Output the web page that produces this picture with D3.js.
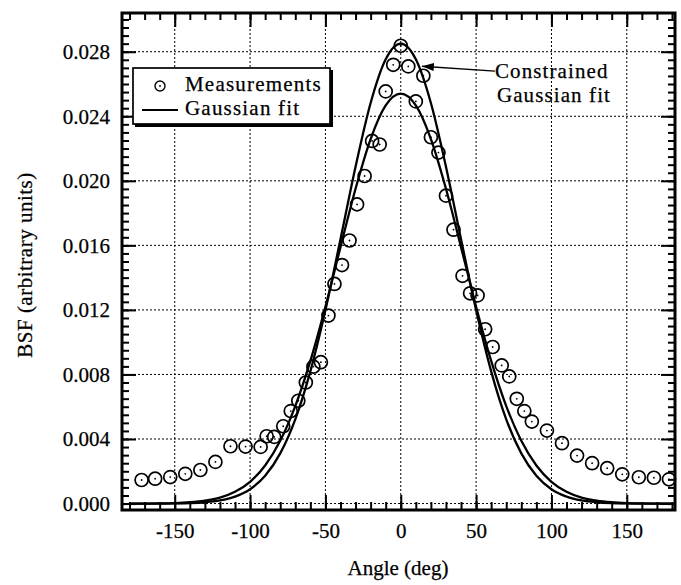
<!DOCTYPE html>
<html>
<head>
<meta charset="utf-8">
<script src="https://cdn.jsdelivr.net/npm/d3@7"></script>
<style>
  body { margin: 0; background: #fff; }
  svg text { font-family: 'Liberation Serif', 'Times New Roman', serif; fill: #000; stroke: #000; stroke-width: 0.25px; }
</style>
</head>
<body>
<div class="chart"></div>
<script>
// measured BSF points (angle in deg, BSF in arbitrary units)
const angles = [-172, -163, -153, -143, -133, -123, -113, -103, -93, -89, -84, -78, -73, -68, -63, -58, -53, -48,
  -44, -39, -34, -29, -24, -19, -14, -10, -5, 0, 5, 10, 15, 20, 25, 30, 35, 41, 46, 51, 56, 61, 67, 72, 77, 82,
  87, 97, 107, 117, 127, 137, 147, 158, 168, 178]
const measurements = [0.00146, 0.00154, 0.00164, 0.00184, 0.00208, 0.00258, 0.00355, 0.00353, 0.00351, 0.00417,
  0.00413, 0.00479, 0.00573, 0.00637, 0.00750, 0.00848, 0.00876, 0.01165, 0.01361, 0.01478, 0.01630, 0.01854,
  0.02030, 0.02247, 0.02225, 0.02554, 0.02719, 0.02837, 0.02709, 0.02492, 0.02651, 0.02270, 0.02175, 0.01908,
  0.01697, 0.01411, 0.01303, 0.01290, 0.01080, 0.00970, 0.00856, 0.00788, 0.00649, 0.00573, 0.00508, 0.00452,
  0.00374, 0.00297, 0.00250, 0.00219, 0.00181, 0.00163, 0.00160, 0.00150]

// fit curves, every 10 deg
const fitAngles = [-180, -170, -160, -150, -140, -130, -120, -110, -100, -90, -80, -70, -60, -50, -40, -30, -20, -10,
  0, 10, 20, 30, 40, 50, 60, 70, 80, 90, 100, 110, 120, 130, 140, 150, 160, 170, 180]
const gaussFit = [0.00000, 0.00000, 0.00001, 0.00003, 0.00008, 0.00018, 0.00037, 0.00073, 0.00135, 0.00236, 0.00389,
  0.00604, 0.00884, 0.01220, 0.01589, 0.01951, 0.02259, 0.02467, 0.02540, 0.02467, 0.02259, 0.01951, 0.01589,
  0.01220, 0.00884, 0.00604, 0.00389, 0.00236, 0.00135, 0.00073, 0.00037, 0.00018, 0.00008, 0.00003, 0.00001,
  0.00000, 0.00000]
const constrainedFit = [0.00000, 0.00000, 0.00000, 0.00001, 0.00003, 0.00008, 0.00019, 0.00043, 0.00089, 0.00172,
  0.00311, 0.00522, 0.00819, 0.01199, 0.01638, 0.02087, 0.02482, 0.02753, 0.02850, 0.02753, 0.02482, 0.02087,
  0.01638, 0.01199, 0.00819, 0.00522, 0.00311, 0.00172, 0.00089, 0.00043, 0.00019, 0.00008, 0.00003, 0.00001,
  0.00000, 0.00000, 0.00000]

const xTicks = [-150, -100, -50, 0, 50, 100, 150]
const yTicks = [0, 0.004, 0.008, 0.012, 0.016, 0.020, 0.024, 0.028]
const legendLabels = ['Measurements', 'Gaussian fit']
const noteLines = ['Constrained', 'Gaussian fit']

var width = 681
var height = 585
var plotL = 122, plotR = 675, plotT = 13, plotB = 510

var svg = d3.select('.chart').append('svg')
  .attr('width', width)
  .attr('height', height)

var xScale = d3.scaleLinear().domain([-185, 182]).range([plotL, plotR])
var yScale = d3.scaleLinear().domain([-0.0004, 0.0304]).range([plotB, plotT])

svg.append('clipPath').attr('id', 'plot')
  .append('rect').attr('x', plotL).attr('y', plotT).attr('width', plotR - plotL).attr('height', plotB - plotT)

// dotted grid
var grid = svg.append('g').attr('stroke', '#000').attr('stroke-width', 1).attr('stroke-dasharray', '2,2')
grid.selectAll('.gx').data(xTicks).enter().append('line')
  .attr('x1', d => xScale(d)).attr('x2', d => xScale(d))
  .attr('y1', plotT).attr('y2', plotB)
grid.selectAll('.gy').data(yTicks).enter().append('line')
  .attr('x1', plotL).attr('x2', plotR)
  .attr('y1', d => yScale(d)).attr('y2', d => yScale(d))

// inward ticks on all four sides
var xMinor = d3.range(-180, 181, 10)
var yMinor = d3.range(0, 0.0301, 0.0005)

function tickAxis(axis, g) {
  g.call(axis)
  g.select('.domain').remove()
  g.selectAll('line').attr('stroke', '#000').attr('stroke-width', 2)
}
tickAxis(d3.axisBottom(xScale).tickValues(xMinor).tickSize(-8).tickFormat(''),
  svg.append('g').attr('transform', `translate(0, ${plotB})`))
tickAxis(d3.axisBottom(xScale).tickValues(xTicks).tickSize(-15).tickFormat(''),
  svg.append('g').attr('transform', `translate(0, ${plotB})`))
tickAxis(d3.axisTop(xScale).tickValues(xMinor).tickSize(-7).tickFormat(''),
  svg.append('g').attr('transform', `translate(0, ${plotT})`))
tickAxis(d3.axisTop(xScale).tickValues(xTicks).tickSize(-14).tickFormat(''),
  svg.append('g').attr('transform', `translate(0, ${plotT})`))
tickAxis(d3.axisLeft(yScale).tickValues(yMinor).tickSize(-7).tickFormat(''),
  svg.append('g').attr('transform', `translate(${plotL}, 0)`))
tickAxis(d3.axisLeft(yScale).tickValues(yTicks).tickSize(-14).tickFormat(''),
  svg.append('g').attr('transform', `translate(${plotL}, 0)`))
tickAxis(d3.axisRight(yScale).tickValues(yMinor).tickSize(-7).tickFormat(''),
  svg.append('g').attr('transform', `translate(${plotR}, 0)`))
tickAxis(d3.axisRight(yScale).tickValues(yTicks).tickSize(-14).tickFormat(''),
  svg.append('g').attr('transform', `translate(${plotR}, 0)`))

// tick labels
var xLab = svg.append('g').attr('transform', `translate(0, ${plotB})`)
  .call(d3.axisBottom(xScale).tickValues(xTicks).tickSize(0).tickPadding(13).tickFormat(d => String(d)))
xLab.select('.domain').remove()
var yLab = svg.append('g').attr('transform', `translate(${plotL}, 0)`)
  .call(d3.axisLeft(yScale).tickValues(yTicks).tickSize(0).tickPadding(12).tickFormat(d3.format('.3f')))
yLab.select('.domain').remove()
svg.selectAll('.tick text').style('font-size', '21px').style('font-family', "'Liberation Serif', serif")

// frame
svg.append('rect')
  .attr('x', plotL).attr('y', plotT).attr('width', plotR - plotL).attr('height', plotB - plotT)
  .attr('fill', 'none').attr('stroke', '#000').attr('stroke-width', 3)

// fit curves
var line = d3.line()
  .x(d => xScale(d[0]))
  .y(d => yScale(d[1]))
  .curve(d3.curveMonotoneX)

var curves = svg.append('g').attr('clip-path', 'url(#plot)')
curves.selectAll('path')
  .data([gaussFit, constrainedFit])
  .enter().append('path')
  .attr('d', vals => line(fitAngles.map((a, i) => [a, vals[i]])))
  .attr('fill', 'none')
  .attr('stroke', '#000')
  .attr('stroke-width', 2.3)

// measurement markers
var pts = svg.append('g').selectAll('g')
  .data(angles.map((a, i) => [a, measurements[i]]))
  .enter().append('g')
pts.append('circle')
  .attr('cx', d => xScale(d[0])).attr('cy', d => yScale(d[1])).attr('r', 6.5)
  .attr('fill', 'none').attr('stroke', '#000').attr('stroke-width', 1.7)
pts.append('circle')
  .attr('cx', d => xScale(d[0])).attr('cy', d => yScale(d[1])).attr('r', 0.9)
  .attr('fill', '#000')

// legend
var legend = svg.append('g')
legend.append('rect').attr('x', 135).attr('y', 70).attr('width', 198).attr('height', 57).attr('fill', '#000')
legend.append('rect').attr('x', 133).attr('y', 68).attr('width', 197).attr('height', 56)
  .attr('fill', '#fff').attr('stroke', '#000').attr('stroke-width', 1.7)
legend.append('circle').attr('cx', 160).attr('cy', 86).attr('r', 5)
  .attr('fill', 'none').attr('stroke', '#000').attr('stroke-width', 1.4)
legend.append('circle').attr('cx', 160).attr('cy', 86).attr('r', 0.9).attr('fill', '#000')
legend.append('line').attr('x1', 142).attr('x2', 178).attr('y1', 110).attr('y2', 110)
  .attr('stroke', '#000').attr('stroke-width', 2.2)
legend.selectAll('text').data(legendLabels).enter().append('text')
  .attr('x', 185).attr('y', (d, i) => 91 + i * 24)
  .style('font-size', '21px').style('letter-spacing', '1.2px')
  .text(d => d)

// annotation with arrow
svg.append('defs').append('marker')
  .attr('id', 'arrow').attr('viewBox', '0 0 12 8').attr('refX', 12).attr('refY', 4)
  .attr('markerWidth', 12).attr('markerHeight', 8).attr('markerUnits', 'userSpaceOnUse')
  .attr('orient', 'auto')
  .append('path').attr('d', 'M0,0 L12,4 L0,8 Z').attr('fill', '#000')
svg.append('line')
  .attr('x1', xScale(62.5)).attr('y1', yScale(0.0268))
  .attr('x2', xScale(14)).attr('y2', yScale(0.0271))
  .attr('stroke', '#000').attr('stroke-width', 1.4)
  .attr('marker-end', 'url(#arrow)')
svg.append('g').selectAll('text').data(noteLines).enter().append('text')
  .attr('x', (d, i) => xScale(62.5) + i * 2).attr('y', (d, i) => yScale(0.0264) + i * 24)
  .style('font-size', '21px').style('letter-spacing', '1.1px')
  .text(d => d)

// axis titles
svg.append('text')
  .attr('x', 398).attr('y', 575)
  .attr('text-anchor', 'middle')
  .style('font-size', '21px')
  .text('Angle (deg)')
svg.append('text')
  .attr('transform', 'translate(32, 265) rotate(-90)')
  .attr('text-anchor', 'middle')
  .style('font-size', '21px').style('letter-spacing', '0.5px')
  .text('BSF (arbitrary units)')
</script>
</body>
</html>
